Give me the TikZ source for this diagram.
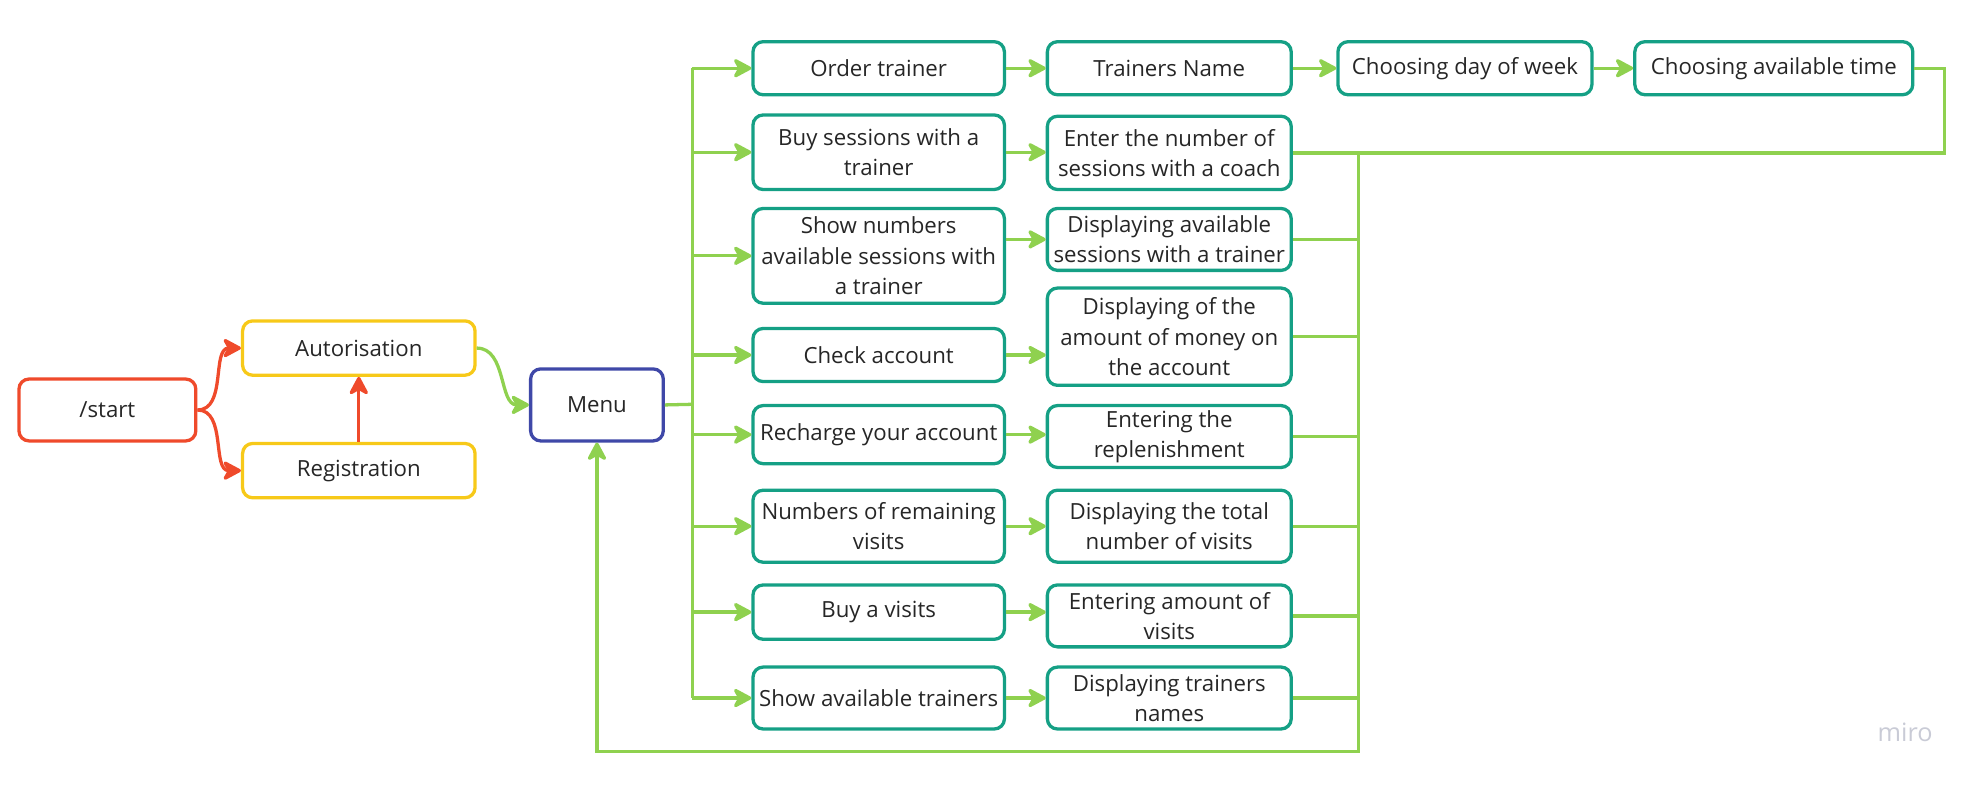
\documentclass[tikz,border=0pt]{standalone}
\usepackage{fontspec}
\setmainfont{Open Sans}
\usetikzlibrary{arrows.meta, positioning}
\definecolor{mirored}{HTML}{EF4A2B}
\definecolor{miroyellow}{HTML}{F7C919}
\definecolor{miroblue}{HTML}{3F48A8}
\definecolor{miroteal}{HTML}{15A085}
\definecolor{mirogreen}{HTML}{8FD14F}
\definecolor{mirogray}{HTML}{C9CBD6}
\tikzset{
    x=1pt, y=-1pt, % one unit is one pixel of the sketch, y grows downwards
    >={Stealth[length=17pt, width=18pt, inset=5pt, round]}, % filled arrow heads
    every node/.style={font=\fontsize{17.6}{24}\selectfont, text=black!85},
    block/.style={draw, line width=2.6pt, rounded corners=8pt, align=center, inner sep=1pt}, % common box look
    startblock/.style={block, draw=mirored, minimum width=140pt, minimum height=49pt},
    authblock/.style={block, draw=miroyellow, minimum width=184pt, minimum height=43pt},
    menublock/.style={block, draw=miroblue, minimum width=105pt, minimum height=57pt},
    optblock/.style={block, draw=miroteal, minimum width=199pt}, % menu options
    infoblock/.style={block, draw=miroteal, minimum width=193pt}, % answers of the bot
    flow/.style={line width=2.6pt, draw=mirogreen},
    redflow/.style={line width=2.6pt, draw=mirored},
}
\begin{document}
\begin{tikzpicture}
    \useasboundingbox (0,0) rectangle (1568,624);
    % entry
    \node[startblock] (start) at (85,324.5) {/start};
    \node[authblock] (auth) at (284,275.5) {Autorisation};
    \node[authblock] (reg) at (284,372.5) {Registration};
    \node[menublock] (menu) at (472.5,320.5) {Menu};
    % menu options
    \node[optblock, minimum height=42pt] (order) at (695.5,54) {Order trainer};
    \node[optblock, minimum height=59pt] (buy) at (695.5,120.5) {Buy sessions with a\\trainer};
    \node[optblock, minimum height=75pt] (shownum) at (695.5,202.5) {Show numbers\\available sessions with\\a trainer};
    \node[optblock, minimum height=42pt] (check) at (695.5,281) {Check account};
    \node[optblock, minimum height=46pt] (recharge) at (695.5,344) {Recharge your account};
    \node[optblock, minimum height=57pt] (remain) at (695.5,416.5) {Numbers of remaining\\visits};
    \node[optblock, minimum height=43pt] (buyvis) at (695.5,484.5) {Buy a visits};
    \node[optblock, minimum height=49pt] (showtr) at (695.5,552.5) {Show available trainers};
    % answers
    \node[infoblock, minimum height=42pt] (tname) at (925.5,54) {Trainers Name};
    \node[infoblock, minimum height=58pt] (enter) at (925.5,121) {Enter the number of\\sessions with a coach};
    \node[infoblock, minimum height=49pt] (dispses) at (925.5,189.5) {Displaying available\\sessions with a trainer};
    \node[infoblock, minimum height=77pt] (money) at (925.5,266.5) {Displaying of the\\amount of money on\\the account};
    \node[infoblock, minimum height=49pt] (replen) at (925.5,345.5) {Entering the\\replenishment};
    \node[infoblock, minimum height=57pt] (total) at (925.5,416.5) {Displaying the total\\number of visits};
    \node[infoblock, minimum height=49pt] (amount) at (925.5,487.5) {Entering amount of\\visits};
    \node[infoblock, minimum height=49pt] (names) at (925.5,552.5) {Displaying trainers\\names};
    \node[infoblock, minimum width=201pt, minimum height=42pt] (day) at (1159.5,54) {Choosing day of week};
    \node[infoblock, minimum width=220pt, minimum height=42pt] (time) at (1404,54) {Choosing available time};
    \node[text=mirogray, font=\fontsize{20}{20}\selectfont] (miro) at (1508,580) {miro};
    % bus coordinates
    \coordinate (lbus) at (548,320);
    \coordinate (rtop) at (1075,121);
    \coordinate (rbot) at (1075,595);
    % connectors
    \draw[redflow, ->] (start.east) to[out=0, in=180] (auth.west);
    \draw[redflow, ->] (start.east) to[out=0, in=180] (reg.west);
    \draw[redflow, ->] (reg.north) -- (auth.south);
    \draw[flow, ->] (auth.east) to[out=0, in=180] (menu.west);
    \draw[flow] (menu.east) -- (lbus);
    \draw[flow] (order.west -| lbus) -- (showtr.west -| lbus);
    \foreach \n in {order, buy, shownum, check, recharge, remain, buyvis, showtr}
        \draw[flow, ->] (\n.west -| lbus) -- (\n.west);
    \foreach \a/\b in {order/tname, buy/enter, check/money, recharge/replen, remain/total, buyvis/amount, showtr/names}
        \draw[flow, ->] (\a.east) -- (\a.east -| \b.west);
    \draw[flow, ->] (dispses.west -| shownum.east) -- (dispses.west);
    \draw[flow, ->] (tname) -- (day);
    \draw[flow, ->] (day) -- (time);
    \draw[flow] (time.east) -- ++(24,0) |- (enter.east);
    \foreach \n in {dispses, money, replen, total, amount, names}
        \draw[flow] (\n.east) -- (\n.east -| rtop);
    \draw[flow, ->] (rtop) -- (rbot) -| (menu.south);
\end{tikzpicture}
\end{document}
